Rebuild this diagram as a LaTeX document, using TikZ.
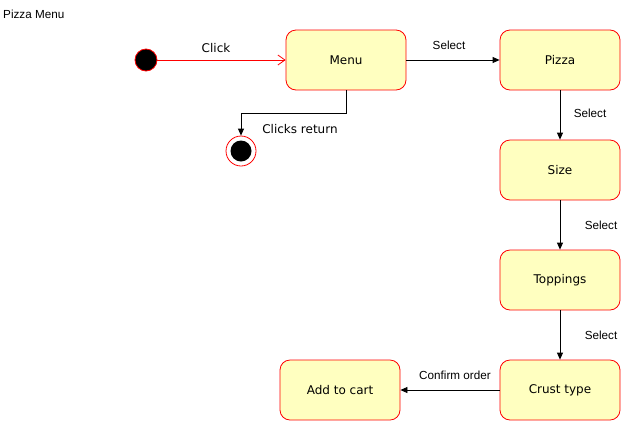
\documentclass[tikz,border=0pt]{standalone}
\usepackage{fontspec}
\setmainfont{Liberation Sans}
\newfontfamily\nodefont{DejaVu Sans}
\usetikzlibrary{arrows.meta}
\definecolor{statefill}{HTML}{FFFFC0}
\definecolor{statered}{HTML}{FF0000}
\begin{document}
\begin{tikzpicture}[x=1pt,y=-1pt,
  state/.style={draw=statered,fill=statefill,rounded corners=10pt,minimum width=120pt,minimum height=60pt,inner sep=0pt,font=\nodefont\fontsize{12}{14}\selectfont,line width=0.8pt},
  lbl/.style={font=\fontsize{11.7}{13}\selectfont,inner sep=0pt},
  vlbl/.style={font=\nodefont\fontsize{12}{14}\selectfont,inner sep=0pt},
  conn/.style={draw=black,line width=0.8pt,-{Triangle[length=7pt,width=6pt]}},
  openconn/.style={draw=statered,line width=0.8pt,-{Straight Barb[length=7pt,width=10pt,line width=0.8pt]}}]
\useasboundingbox (0,0) rectangle (631,421);
\node[anchor=west,lbl] (title) at (3,14) {Pizza Menu};
\node[circle,fill=black,draw=statered,line width=0.8pt,minimum size=22pt,inner sep=0pt] (start) at (146,60) {};
\node[state] (menu) at (346,60) {Menu};
\node[state] (pizza) at (560,60) {Pizza};
\node[state] (size) at (560,170) {Size};
\node[state] (toppings) at (560,280) {Toppings};
\node[state] (crust) at (560,390) {Crust type};
\node[state] (cart) at (340,390) {Add to cart};
\node[circle,draw=statered,fill=white,line width=0.8pt,minimum size=30pt,inner sep=0pt] (end) at (241,151) {};
\node[circle,fill=black,minimum size=21pt,inner sep=0pt] (endin) at (end.center) {};
\coordinate (bend) at (241,113);
\draw[openconn] (start) -- (menu);
\draw[conn] (menu) -- (pizza);
\draw[conn] (pizza) -- (size);
\draw[conn] (size) -- (toppings);
\draw[conn] (toppings) -- (crust);
\draw[conn] (crust) -- (cart);
\draw[conn] (menu.south) |- (bend) -- (end.north);
\node[vlbl] (l1) at (216,48) {Click};
\node[lbl] (l2) at (449,45) {Select};
\node[lbl] (l3) at (590,113) {Select};
\node[vlbl] (l4) at (300,129) {Clicks return};
\node[lbl] (l5) at (601,225) {Select};
\node[lbl] (l6) at (601,335) {Select};
\node[lbl] (l7) at (455,375) {Confirm order};
\end{tikzpicture}
\end{document}
